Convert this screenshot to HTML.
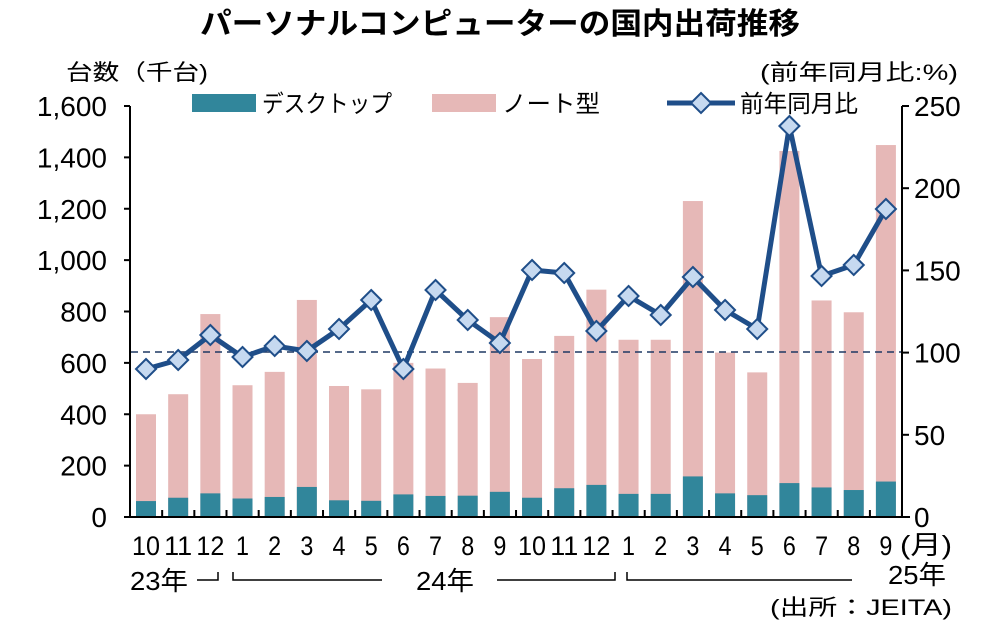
<!DOCTYPE html>
<html><head><meta charset="utf-8"><style>
body{margin:0;background:#fff;}
svg{display:block;font-family:"Liberation Sans","Noto Sans CJK JP",sans-serif;}
</style></head><body>
<svg width="1000" height="624" viewBox="0 0 1000 624" xmlns="http://www.w3.org/2000/svg">
<text x="500" y="34" text-anchor="middle" font-size="30" font-weight="bold" textLength="600" lengthAdjust="spacingAndGlyphs">パーソナルコンピューターの国内出荷推移</text>
<text x="66" y="80" font-size="22" textLength="142" lengthAdjust="spacingAndGlyphs">台数（千台)</text>
<text x="760" y="80" font-size="22" textLength="198" lengthAdjust="spacingAndGlyphs">(前年同月比:%)</text>
<rect x="192" y="94" width="64" height="18" fill="#31869b"/>
<text x="262" y="112" font-size="24" textLength="130" lengthAdjust="spacingAndGlyphs">デスクトップ</text>
<rect x="432" y="94" width="64" height="18" fill="#e6b8b7"/>
<text x="502" y="112" font-size="24" textLength="98" lengthAdjust="spacingAndGlyphs">ノート型</text>
<line x1="667" y1="103" x2="735" y2="103" stroke="#1f4e89" stroke-width="5"/>
<polygon points="701,93 711,103 701,113 691,103" fill="#c6d9f0" stroke="#1f4e89" stroke-width="2"/>
<text x="740" y="112" font-size="24" textLength="118" lengthAdjust="spacingAndGlyphs">前年同月比</text>
<g id="bars"></g>
<line x1="131" y1="352" x2="902" y2="352" stroke="#1f3864" stroke-width="1.5" stroke-dasharray="7,5"/>
<g id="line"></g>
<g stroke="#000" stroke-width="2">
<line x1="130" y1="106" x2="130" y2="518"/>
<line x1="902" y1="106" x2="902" y2="518"/>
<line x1="124" y1="517" x2="910" y2="517"/>
</g>
<g id="ticks" stroke="#000" stroke-width="2"></g>
<g id="labels" font-size="28"></g>
<g font-size="26">
<text x="130" y="590" textLength="58" lengthAdjust="spacingAndGlyphs">23年</text>
<text x="416" y="590" textLength="58" lengthAdjust="spacingAndGlyphs">24年</text>
<text x="888" y="584" textLength="58" lengthAdjust="spacingAndGlyphs">25年</text>
<text x="900" y="554" textLength="52" lengthAdjust="spacingAndGlyphs">(月)</text>
<text x="770" y="615" font-size="22" textLength="182" lengthAdjust="spacingAndGlyphs">(出所：JEITA)</text>
</g>
<g stroke="#000" stroke-width="1.5" fill="none">
<polyline points="197,580 218,580 218,572"/>
<polyline points="233,572 233,580 382,580"/>
<polyline points="497,580 615,580 615,572"/>
<polyline points="627,572 627,580 852,580"/>
</g>
<script>
var total=[400,478,790,513,565,845,510,497,600,578,522,778,615,705,885,690,690,1230,640,563,1425,843,797,1448];
var desk=[62,75,92,72,78,117,65,63,88,82,83,98,75,112,125,90,90,158,92,85,132,115,105,138];
var ly=[369,360,335,357,346,351,329,300,369,290,320,343,270,273,331,296,315,277,310,329,126,276,265,209];
var ns="http://www.w3.org/2000/svg";
function el(t,a,p){var e=document.createElementNS(ns,t);for(var k in a)e.setAttribute(k,a[k]);p.appendChild(e);return e;}
var b=document.getElementById('bars'),L=document.getElementById('line'),T=document.getElementById('ticks'),G=document.getElementById('labels');
var k=411/1600,pts=[];
var mon=['10','11','12','1','2','3','4','5','6','7','8','9','10','11','12','1','2','3','4','5','6','7','8','9'];
for(var i=0;i<24;i++){var cx=146+i*32.17;
el('rect',{x:cx-10,y:517-total[i]*k,width:20,height:total[i]*k,fill:'#e6b8b7'},b);
el('rect',{x:cx-10,y:517-desk[i]*k,width:20,height:desk[i]*k,fill:'#31869b'},b);
pts.push(cx+','+ly[i]);
var t=el('text',{x:cx,y:555,'text-anchor':'middle','font-size':27},G);t.textContent=mon[i];
t.setAttribute('textLength',mon[i].length==2?28:13);t.setAttribute('lengthAdjust','spacingAndGlyphs');
if(i>0)el('line',{x1:cx-16,y1:517,x2:cx-16,y2:510},T);}
el('line',{x1:146+23*32.17+16,y1:517,x2:146+23*32.17+16,y2:510},T);
el('polyline',{points:pts.join(' '),fill:'none',stroke:'#1f4e89','stroke-width':5,'stroke-linejoin':'round'},L);
for(var i=0;i<24;i++){var cx=146+i*32.17,y=ly[i];
el('polygon',{points:cx+','+(y-10)+' '+(cx+10)+','+y+' '+cx+','+(y+10)+' '+(cx-10)+','+y,fill:'#c6d9f0',stroke:'#1f4e89','stroke-width':2},L);}
var ll=['0','200','400','600','800','1,000','1,200','1,400','1,600'];
for(var j=0;j<9;j++){var y=517-j*411/8;
el('line',{x1:124,y1:y,x2:130,y2:y},T);
var t=el('text',{x:107,y:y+10,'text-anchor':'end'},G);t.textContent=ll[j];}
for(var j=0;j<6;j++){var y=517-j*411/5;
el('line',{x1:902,y1:y,x2:909,y2:y},T);
var t=el('text',{x:914,y:y+10},G);t.textContent=String(j*50);}
</script>
</svg>
</body></html>
